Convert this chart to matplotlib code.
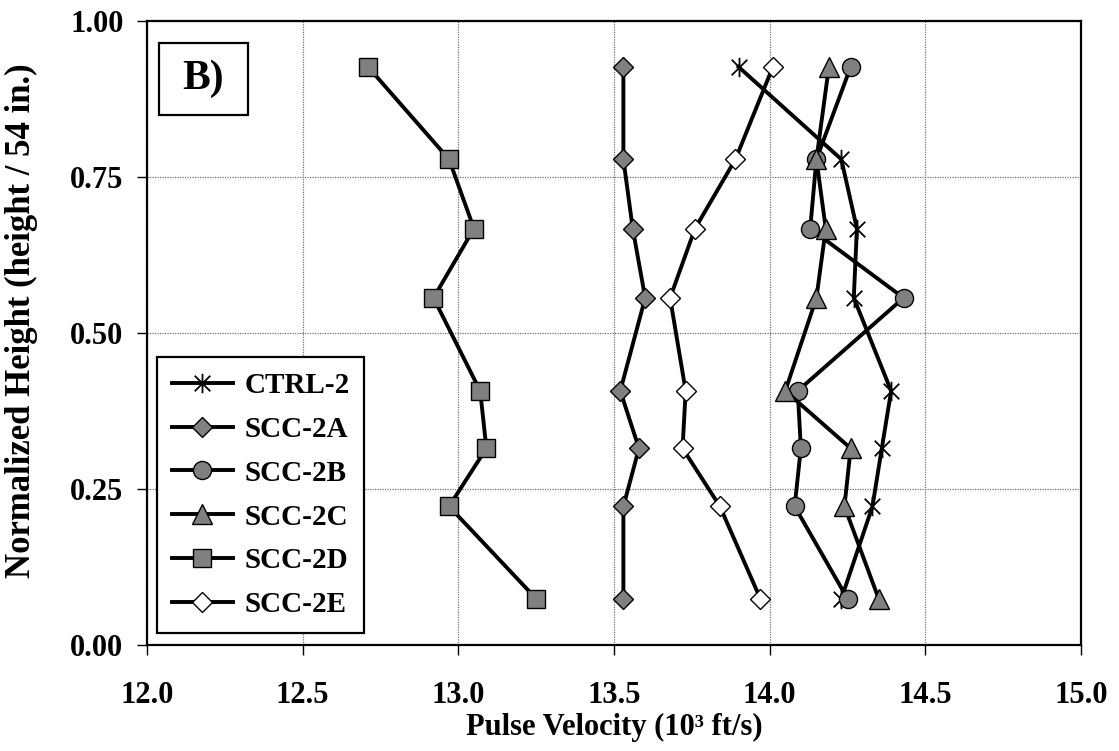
import matplotlib
matplotlib.use("Agg")
import matplotlib.pyplot as plt
from matplotlib.path import Path
from matplotlib.patches import Rectangle
from matplotlib.ticker import FormatStrFormatter, MultipleLocator

# Normalized gauge heights (height / 54 in.)
heights = [0.926, 0.778, 0.667, 0.556, 0.407, 0.315, 0.222, 0.074]

# Pulse velocity readings (10^3 ft/s) at each height
ctrl_2 = [13.90, 14.23, 14.28, 14.27, 14.39, 14.36, 14.33, 14.23]
scc_2a = [13.53, 13.53, 13.56, 13.60, 13.52, 13.58, 13.53, 13.53]
scc_2b = [14.26, 14.15, 14.13, 14.43, 14.09, 14.10, 14.08, 14.25]
scc_2c = [14.19, 14.15, 14.18, 14.15, 14.05, 14.26, 14.24, 14.35]
scc_2d = [12.71, 12.97, 13.05, 12.92, 13.07, 13.09, 12.97, 13.25]
scc_2e = [14.01, 13.89, 13.76, 13.68, 13.73, 13.72, 13.84, 13.97]

series_names = ["CTRL-2", "SCC-2A", "SCC-2B", "SCC-2C", "SCC-2D", "SCC-2E"]

plt.rcParams["font.family"] = ["Liberation Serif", "DejaVu Serif"]
plt.rcParams["font.weight"] = "bold"

# Asterisk marker: vertical stroke plus an X
star_path = Path(
    [(0, -1), (0, 1), (-0.8, -0.8), (0.8, 0.8), (-0.8, 0.8), (0.8, -0.8)],
    [Path.MOVETO, Path.LINETO, Path.MOVETO, Path.LINETO, Path.MOVETO, Path.LINETO],
)

gray = "#808080"
styles = [
    dict(marker=star_path, ms=14, mfc="none", mec="black", mew=1.3),
    dict(marker="D", ms=10, mfc=gray, mec="black", mew=1.0),
    dict(marker="o", ms=13, mfc=gray, mec="black", mew=1.0),
    dict(marker="^", ms=14.5, mfc=gray, mec="black", mew=1.0),
    dict(marker="s", ms=13, mfc=gray, mec="black", mew=1.0),
    dict(marker="D", ms=10, mfc="white", mec="black", mew=1.0),
]

fig = plt.figure(figsize=(11.19, 7.51), dpi=100)
ax = fig.add_axes([0.1314, 0.1412, 0.8347, 0.8312])

for vals, name, st in zip([ctrl_2, scc_2a, scc_2b, scc_2c, scc_2d, scc_2e], series_names, styles):
    ax.plot(vals, heights, color="black", lw=2.8, label=name, **st)

ax.set_xlim(12.0, 15.0)
ax.set_ylim(0.0, 1.0)
ax.xaxis.set_major_locator(MultipleLocator(0.5))
ax.yaxis.set_major_locator(MultipleLocator(0.25))
ax.xaxis.set_major_formatter(FormatStrFormatter("%.1f"))
ax.yaxis.set_major_formatter(FormatStrFormatter("%.2f"))
ax.grid(True, color="#707070", linestyle=(0, (1, 1)), linewidth=0.9)
ax.set_axisbelow(True)

for sp in ax.spines.values():
    sp.set_linewidth(1.6)
ax.tick_params(axis="both", direction="out", length=7, width=1.0, labelsize=22)
ax.tick_params(axis="x", pad=19)
ax.tick_params(axis="y", pad=10)
for lab in ax.get_xticklabels() + ax.get_yticklabels():
    lab.set_fontweight("bold")

ax.set_xlabel("Pulse Velocity (10³ ft/s)", fontsize=22, fontweight="bold", labelpad=2)
ax.set_ylabel("Normalized Height (height / 54 in.)", fontsize=25, fontweight="bold")
ax.yaxis.set_label_coords(-0.117, 0.519)

# Panel tag
ax.add_patch(Rectangle((0.0128, 0.849), 0.0952, 0.115, transform=ax.transAxes,
                       facecolor="white", edgecolor="black", lw=1.6, zorder=5))
ax.text(0.0605, 0.9065, "B)", transform=ax.transAxes, ha="center", va="center",
        fontsize=30, fontweight="bold", zorder=6)

leg = ax.legend(loc="lower left", bbox_to_anchor=(0.0107, 0.0192), borderaxespad=0,
                frameon=True, fancybox=False, framealpha=1,
                edgecolor="black", handlelength=2.1, handletextpad=0.4,
                labelspacing=0.58, borderpad=0.5, prop={"weight": "bold", "size": 21})
leg.get_frame().set_linewidth(1.6)

fig.savefig("out.png", dpi=100)
